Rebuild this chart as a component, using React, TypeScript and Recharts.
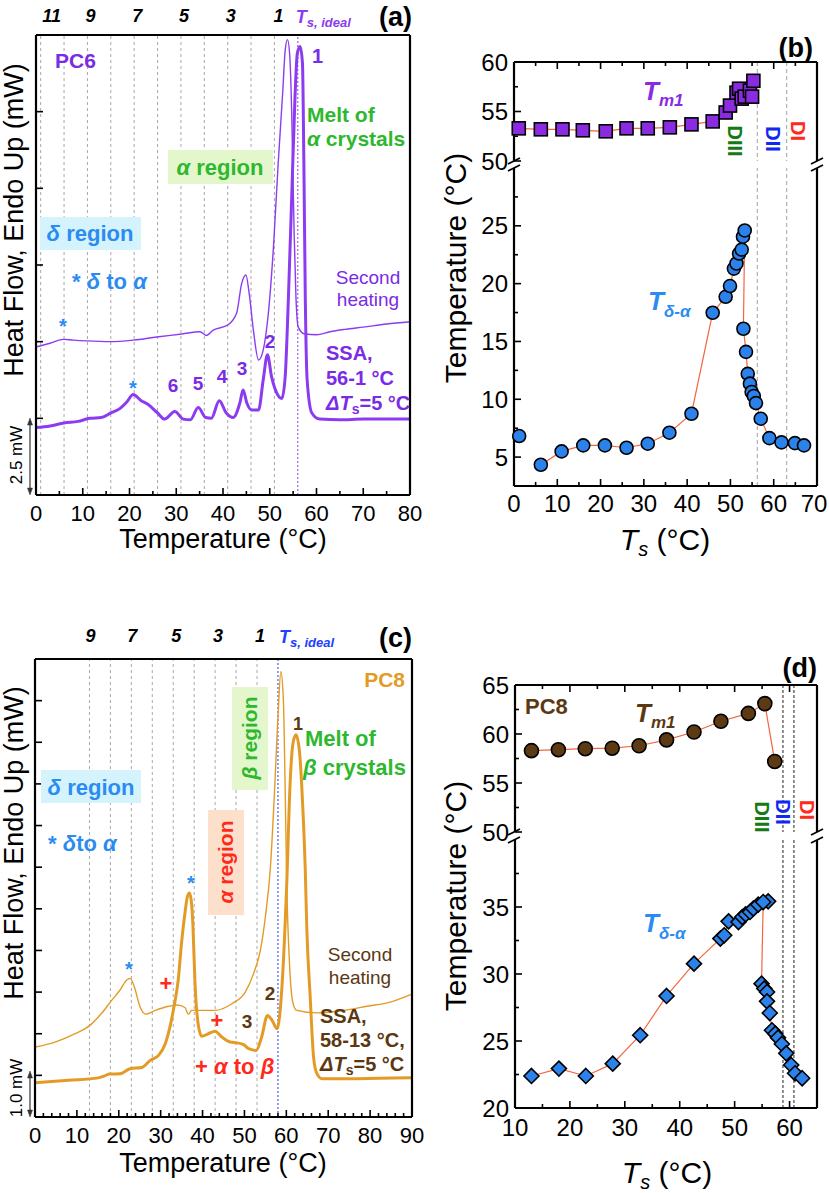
import React from 'react';
import { LineChart, Line, XAxis, YAxis, ReferenceLine, ScatterChart, Scatter } from 'recharts';

const FONT = '"Liberation Sans", Arial, Helvetica, sans-serif';
const PURPLE = '#8b3cf0';
const PURPLE_TXT = '#7b2ae6';
const ORANGE = '#e39b26';
const BROWN = '#5b3812';
const GREEN = '#2db82d';
const DGREEN = '#147a14';
const BLUE_TXT = '#2a8cf2';
const BLUE_MK = '#2a82ea';
const RED = '#ff2a1a';
const FIT = '#f2663f';
const GRID = '#a8a8a8';

// (a) PC6: heat flow in units of 2.5 mW (traces offset)
const A_HEAT_T = [0, 3, 5.9, 8, 10.8, 15.8, 20.8, 25.8, 31.2, 35.1, 36.4, 37.9, 41.1, 42.9, 44.0, 44.9, 45.6, 46.5, 47.6, 48.6, 49.7, 50.8, 51.8, 52.8, 53.3, 53.8, 54.3, 54.7, 55.2, 55.6, 56.1, 57.5, 60.0, 62.9, 66, 70, 75, 80];
const A_HEAT_V = [1.93, 1.98, 2.03, 2.02, 2.01, 2.0, 2.02, 2.06, 2.1, 2.13, 2.08, 2.15, 2.22, 2.37, 2.76, 2.87, 2.63, 2.15, 1.76, 1.89, 2.37, 3.24, 4.32, 5.28, 5.8, 5.94, 5.71, 4.98, 3.45, 2.59, 2.19, 2.1, 2.09, 2.13, 2.16, 2.19, 2.23, 2.26];
const A_SSA_T = [0, 3, 6, 9, 11.5, 14, 16, 18, 19.5, 20.8, 22.5, 24, 26, 27.5, 29.7, 31.5, 33, 34.7, 36.3, 37.5, 39.2, 40.7, 42.2, 43.6, 44.3, 45.1, 46.1, 47.6, 48.6, 49.5, 50.4, 51.5, 52.6, 53.3, 54.0, 54.7, 55.4, 55.9, 56.5, 57.0, 57.3, 57.6, 58.0, 59.0, 60.7, 65, 70, 75, 80];
const A_SSA_V = [0.88, 0.9, 0.94, 0.96, 1.0, 1.01, 1.07, 1.13, 1.22, 1.31, 1.23, 1.18, 1.07, 0.99, 1.09, 0.99, 0.98, 1.14, 1.01, 1.0, 1.23, 1.07, 1.01, 1.2, 1.37, 1.2, 1.11, 1.11, 1.5, 1.83, 1.54, 1.33, 1.26, 1.54, 2.59, 3.89, 5.19, 5.76, 5.85, 5.63, 4.32, 2.59, 1.5, 1.07, 0.99, 0.98, 0.99, 0.99, 0.99];
const A_WIN_T = [1, 6, 11, 16, 21, 26, 31, 36, 41, 46, 51];
const A_WIN_N = [11, 10, 9, 8, 7, 6, 5, 4, 3, 2, 1];
const A_IDEAL = 56;
const A_XTICKS = [0, 5, 10, 15, 20, 25, 30, 35, 40, 45, 50, 55, 60, 65, 70, 75, 80];
const A_XMAJOR = [0, 10, 20, 30, 40, 50, 60, 70, 80];
const A_YTICKS = [0, 1, 2, 3, 4, 5, 6];

// (c) PC8: heat flow in mW (traces offset)
const C_HEAT_T = [0, 4.8, 9.6, 13.1, 15.9, 18.3, 20.3, 21.9, 22.7, 23.7, 25.1, 26.4, 28.7, 31.9, 33.9, 35.8, 36.6, 37.4, 39.8, 43, 47, 50.2, 52.2, 53.8, 55, 56.2, 57.2, 58.0, 58.7, 59.3, 59.7, 60.1, 60.8, 61.6, 62.5, 67.3, 73.7, 79.3, 84.8, 90];
const C_HEAT_V = [1.68, 1.8, 2.0, 2.2, 2.49, 2.8, 3.05, 3.29, 3.33, 3.13, 2.64, 2.47, 2.56, 2.66, 2.69, 2.63, 2.47, 2.56, 2.56, 2.56, 2.72, 3.0, 3.45, 4.0, 4.81, 6.0, 7.85, 9.61, 10.7, 10.0, 8.0, 5.6, 3.6, 2.73, 2.56, 2.5, 2.56, 2.66, 2.76, 2.95];
const C_SSA_T = [0, 8, 15.1, 16.5, 17.7, 20.3, 22.7, 25.5, 27.5, 29.5, 31.1, 32.3, 33.2, 34.2, 35.0, 35.8, 36.4, 36.9, 37.4, 37.7, 38.2, 39.0, 39.8, 41.4, 43.0, 44.6, 46.6, 48.2, 49.8, 51.0, 52.8, 54.1, 55.5, 56.6, 57.8, 59.0, 60.1, 60.9, 61.6, 62.3, 63.1, 63.9, 64.5, 64.9, 65.7, 66.5, 67.3, 68.5, 75, 82, 90];
const C_SSA_V = [0.82, 0.88, 0.94, 0.98, 1.03, 1.04, 1.16, 1.19, 1.36, 1.48, 1.76, 2.2, 2.66, 3.3, 4.2, 4.9, 5.3, 5.38, 5.1, 4.6, 3.2, 2.2, 1.94, 2.0, 2.06, 1.92, 1.8, 1.78, 1.74, 1.64, 1.6, 1.92, 2.44, 2.32, 2.12, 3.2, 5.61, 8.01, 8.98, 9.18, 8.81, 7.5, 6.0, 4.49, 2.88, 1.44, 1.04, 0.92, 0.92, 0.93, 0.94];
const C_WIN_T = [13, 18, 23, 28, 33, 38, 43, 48, 53];
const C_WIN_N = [9, 8, 7, 6, 5, 4, 3, 2, 1];
const C_IDEAL = 58;
const C_XTICKS = [0, 2, 4, 6, 8, 10, 12, 14, 16, 18, 20, 22, 24, 26, 28, 30, 32, 34, 36, 38, 40, 42, 44, 46, 48, 50, 52, 54, 56, 58, 60, 62, 64, 66, 68, 70, 72, 74, 76, 78, 80, 82, 84, 86, 88, 90];
const C_XMAJOR = [0, 10, 20, 30, 40, 50, 60, 70, 80, 90];
const C_YTICKS = [0, 1, 2, 3, 4, 5, 6, 7, 8, 9, 10, 11];

// (b) PC6 vs Ts
const B_TM_TS = [1.1, 6.2, 11.2, 15.9, 21.2, 26.0, 30.9, 36.0, 41.0, 45.9, 48.9, 49.9, 51.4, 52.0, 52.6, 53.3, 54.5, 55.0, 55.3];
const B_TM_V = [53.3, 53.2, 53.2, 53.1, 53.0, 53.3, 53.3, 53.4, 53.7, 54.0, 54.9, 55.6, 56.9, 57.3, 56.3, 56.5, 57.1, 56.5, 58.1];
const B_TDA0_TS = [1.2];
const B_TDA0_V = [6.82];
const B_TDA_TS = [6.2, 11.0, 16.0, 21.0, 26.0, 30.9, 35.9, 41.0, 45.9, 48.9, 49.9, 50.8, 51.4, 52.0, 52.6, 52.9, 53.3, 53.0, 53.6, 54.0, 54.5, 54.9, 55.4, 55.9, 57.0, 59.0, 61.8, 64.9, 67.0];
const B_TDA_V = [4.34, 5.49, 6.01, 6.01, 5.81, 6.16, 7.11, 8.75, 17.48, 18.86, 19.79, 21.3, 21.74, 22.6, 22.94, 24.06, 24.6, 16.1, 14.1, 12.2, 11.35, 10.63, 10.28, 9.67, 8.32, 6.64, 6.27, 6.21, 6.01];
const B_DOMAINS = [56.2, 63];
const B_XTICKS = [0, 5, 10, 15, 20, 25, 30, 35, 40, 45, 50, 55, 60, 65, 70];
const B_XMAJOR = [0, 10, 20, 30, 40, 50, 60, 70];
const B_UTICKS = [50, 52.5, 55, 57.5, 60];
const B_UMAJOR = [50, 55, 60];
const B_LTICKS = [5, 7.5, 10, 12.5, 15, 17.5, 20, 22.5, 25, 27.5];
const B_LMAJOR = [5, 10, 15, 20, 25];

// (d) PC8 vs Ts
const D_TM_TS = [13.0, 17.9, 22.8, 27.7, 32.6, 37.6, 42.6, 47.5, 52.5, 55.5, 57.3];
const D_TM_V = [58.3, 58.4, 58.5, 58.55, 58.8, 59.4, 60.2, 61.3, 62.1, 63.1, 57.2];
const D_TDA_TS = [13.0, 18.0, 22.9, 27.8, 32.8, 37.6, 42.6, 47.4, 48.1, 48.9, 50.7, 51.4, 52.0, 52.8, 53.4, 54.3, 56.1, 55.2, 54.9, 55.4, 55.9, 55.9, 56.4, 56.8, 57.4, 57.9, 58.6, 59.4, 60.3, 61.0, 62.3];
const D_TDA_V = [22.39, 22.94, 22.39, 23.31, 25.43, 28.36, 30.77, 32.64, 32.89, 33.93, 33.88, 34.25, 34.45, 34.63, 34.88, 35.18, 35.42, 35.37, 29.28, 28.91, 28.66, 27.96, 27.09, 25.8, 25.55, 25.25, 24.78, 24.08, 23.21, 22.59, 22.22];
const D_DOMAINS = [58.8, 60.8];
const D_XTICKS = [10, 15, 20, 25, 30, 35, 40, 45, 50, 55, 60, 65];
const D_XMAJOR = [10, 20, 30, 40, 50, 60];
const D_UTICKS = [50, 52.5, 55, 57.5, 60, 62.5, 65];
const D_UMAJOR = [50, 55, 60, 65];
const D_LTICKS = [20, 22.5, 25, 27.5, 30, 32.5, 35, 37.5];
const D_LMAJOR = [20, 25, 30, 35];

type Pt = { x: number; y: number };
const zip = (xs: number[], ys: number[]): Pt[] => xs.map((x, i) => ({ x, y: ys[i] }));
const has = (arr: number[], v: number) => arr.some((m) => Math.abs(m - v) < 1e-6);

type Side = 'bottom' | 'top' | 'left' | 'right';

// inward ticks, long for majors; labels only where asked
function tickFn(side: Side, major: number[], shown: number[], size: number, gap: number, lastDx = 0) {
  const last = shown.length ? shown[shown.length - 1] : NaN;
  return (p: any) => {
    const v = Number(p.payload.value);
    const x = p.x;
    const y = p.y;
    const len = has(major, v) ? 7 : 4;
    const c =
      side === 'bottom' ? [x, y, x, y - len] : side === 'top' ? [x, y, x, y + len] : side === 'left' ? [x, y, x + len, y] : [x, y, x - len, y];
    let label = null;
    if (has(shown, v)) {
      if (side === 'bottom')
        label = (
          <text x={x + (v === last ? lastDx : 0)} y={y + gap} textAnchor="middle" fontSize={size} fontFamily={FONT} fill="#000">
            {v}
          </text>
        );
      else if (side === 'left')
        label = (
          <text x={x - gap} y={y + size * 0.36} textAnchor="end" fontSize={size} fontFamily={FONT} fill="#000">
            {v}
          </text>
        );
    }
    return (
      <g>
        <line x1={c[0]} y1={c[1]} x2={c[2]} y2={c[3]} stroke="#000" strokeWidth={1.6} />
        {label}
      </g>
    );
  };
}

const AXIS = { stroke: '#000', strokeWidth: 2.2 };

const winLabel = (txt: string, off: number, dx: number) => (q: any) => (
  <text x={q.viewBox.x + dx} y={q.viewBox.y - off} textAnchor="middle" fontFamily={FONT} fontSize={18} fontWeight={700} fontStyle="italic" fill="#000">
    {txt}
  </text>
);

const idealLabel = (color: string, off: number, dx: number) => (q: any) => (
  <text x={q.viewBox.x + dx} y={q.viewBox.y - off} fontFamily={FONT} fontSize={18} fontWeight={700} fontStyle="italic" fill={color}>
    T
    <tspan fontSize={13} dy={4}>
      s, ideal
    </tspan>
  </text>
);

type Margin = { top: number; right: number; bottom: number; left: number };
type DscProps = {
  top: number;
  height: number;
  margin: Margin;
  xMax: number;
  xTicks: number[];
  xMajor: number[];
  yMax: number;
  yTicks: number[];
  heat: Pt[];
  ssa: Pt[];
  color: string;
  winT: number[];
  winN: number[];
  winOff: number;
  winDx: number[];
  ideal: number;
  idealColor: string;
  idealOff: number;
  idealDx: number;
};

// axes are 1px thick boxes (recharts skips 0-size axes), margins take the rest
function DscPanel(p: DscProps) {
  return (
    <div style={{ position: 'absolute', left: 0, top: p.top }}>
      <LineChart width={432} height={p.height} margin={p.margin}>
        <XAxis xAxisId="b" type="number" dataKey="x" domain={[0, p.xMax]} ticks={p.xTicks} interval={0} height={1} tickLine={false} tickSize={0} tickMargin={0} axisLine={AXIS} tick={tickFn('bottom', p.xMajor, p.xMajor, 22, 26)} />
        <XAxis xAxisId="t" orientation="top" type="number" dataKey="x" domain={[0, p.xMax]} ticks={p.xTicks} interval={0} height={1} tickLine={false} tickSize={0} tickMargin={0} axisLine={AXIS} tick={tickFn('top', p.xMajor, [], 22, 0)} />
        <YAxis yAxisId="l" type="number" dataKey="y" domain={[0, p.yMax]} ticks={p.yTicks} interval={0} width={1} tickLine={false} tickSize={0} tickMargin={0} axisLine={AXIS} tick={tickFn('left', p.yTicks, [], 22, 0)} />
        <YAxis yAxisId="r" orientation="right" type="number" dataKey="y" domain={[0, p.yMax]} ticks={p.yTicks} interval={0} width={1} tickLine={false} tickSize={0} tickMargin={0} axisLine={AXIS} tick={tickFn('right', p.yTicks, [], 22, 0)} />
        {p.winT.map((t, i) => (
          <ReferenceLine
            key={t}
            xAxisId="b"
            yAxisId="l"
            x={t}
            stroke={GRID}
            strokeDasharray="3 3"
            strokeWidth={1}
            label={p.winN[i] % 2 === 1 ? winLabel(String(p.winN[i]), p.winOff, p.winDx[i]) : undefined}
          />
        ))}
        <ReferenceLine xAxisId="b" yAxisId="l" x={p.ideal} stroke={p.idealColor} strokeDasharray="2 2" strokeWidth={1} label={idealLabel(p.idealColor, p.idealOff, p.idealDx)} />
        <Line xAxisId="b" yAxisId="l" data={p.heat} dataKey="y" type="monotone" stroke={p.color} strokeWidth={1.4} dot={false} isAnimationActive={false} />
        <Line xAxisId="b" yAxisId="l" data={p.ssa} dataKey="y" type="monotone" stroke={p.color} strokeWidth={3} dot={false} isAnimationActive={false} />
      </LineChart>
    </div>
  );
}

const square = (fill: string, s: number) => (q: any) => <rect x={q.cx - s / 2} y={q.cy - s / 2} width={s} height={s} fill={fill} stroke="#000" strokeWidth={1.6} />;
const circle = (fill: string, r: number) => (q: any) => <circle cx={q.cx} cy={q.cy} r={r} fill={fill} stroke="#000" strokeWidth={1.6} />;
const diamond = (fill: string, r: number) => (q: any) => (
  <polygon points={`${q.cx},${q.cy - r} ${q.cx + r},${q.cy} ${q.cx},${q.cy + r} ${q.cx - r},${q.cy}`} fill={fill} stroke="#000" strokeWidth={1.6} />
);

type Series = { data: Pt[]; shape: (q: any) => React.ReactElement; line: boolean };
type SegProps = {
  top: number;
  height: number;
  margin: Margin;
  xSide: 'top' | 'bottom';
  xDom: [number, number];
  xTicks: number[];
  xMajor: number[];
  xGap: number;
  lastDx: number;
  yDom: [number, number];
  yTicks: number[];
  yMajor: number[];
  vlines: number[];
  vDash: string;
  vColor: string;
  series: Series[];
};

function Segment(p: SegProps) {
  return (
    <div style={{ position: 'absolute', left: 420, top: p.top }}>
      <ScatterChart width={409} height={p.height} margin={p.margin}>
        <XAxis xAxisId="x" orientation={p.xSide} type="number" dataKey="x" domain={p.xDom} ticks={p.xTicks} interval={0} height={1} tickLine={false} tickSize={0} tickMargin={0} axisLine={AXIS} tick={tickFn(p.xSide, p.xMajor, p.xSide === 'bottom' ? p.xMajor : [], 24, p.xGap, p.lastDx)} />
        <YAxis yAxisId="l" type="number" dataKey="y" domain={p.yDom} ticks={p.yTicks} interval={0} width={1} tickLine={false} tickSize={0} tickMargin={0} axisLine={AXIS} tick={tickFn('left', p.yMajor, p.yMajor, 24, 6)} />
        <YAxis yAxisId="r" orientation="right" type="number" dataKey="y" domain={p.yDom} ticks={p.yTicks} interval={0} width={1} tickLine={false} tickSize={0} tickMargin={0} axisLine={AXIS} tick={tickFn('right', p.yMajor, [], 24, 6)} />
        {p.vlines.map((v) => (
          <ReferenceLine key={v} xAxisId="x" yAxisId="l" x={v} stroke={p.vColor} strokeDasharray={p.vDash} strokeWidth={1} />
        ))}
        {p.series.map((s, i) => (
          <Scatter key={i} xAxisId="x" yAxisId="l" data={s.data} shape={s.shape} line={s.line ? { stroke: FIT, strokeWidth: 1.2 } : false} isAnimationActive={false} />
        ))}
      </ScatterChart>
    </div>
  );
}

function Txt({ x, y, s, c = '#000', w = 700, a = 'start', it = false, rot = 0, children }: any) {
  return (
    <text
      x={x}
      y={y}
      fontSize={s}
      fill={c}
      fontWeight={w}
      textAnchor={a}
      fontStyle={it ? 'italic' : 'normal'}
      fontFamily={FONT}
      transform={rot ? `rotate(${rot} ${x} ${y})` : undefined}
    >
      {children}
    </text>
  );
}

const Gk = ({ children }: any) => <tspan fontStyle="italic">{children}</tspan>;

function Arrow({ x, y1, y2 }: { x: number; y1: number; y2: number }) {
  return (
    <g stroke="#333" fill="#333">
      <line x1={x} y1={y1 + 4} x2={x} y2={y2 - 4} strokeWidth={1.2} />
      <polygon points={`${x},${y1} ${x - 2.5},${y1 + 7} ${x + 2.5},${y1 + 7}`} strokeWidth={0.5} />
      <polygon points={`${x},${y2} ${x - 2.5},${y2 - 7} ${x + 2.5},${y2 - 7}`} strokeWidth={0.5} />
    </g>
  );
}

function BreakMarks({ y1, y2 }: { y1: number; y2: number }) {
  return (
    <g stroke="#000" strokeWidth={1.8}>
      {[514, 817].map((x) => (
        <g key={x}>
          <line x1={x - 6} y1={y1 + 3} x2={x + 6} y2={y1 - 3} />
          <line x1={x - 6} y1={y2 + 3} x2={x + 6} y2={y2 - 3} />
        </g>
      ))}
    </g>
  );
}

function DLabels({ xs, ys }: { xs: number[]; ys: number[] }) {
  const cols = [DGREEN, '#1028f0', RED];
  const txt = ['DIII', 'DII', 'DI'];
  return (
    <g>
      {txt.map((t, i) => (
        <Txt key={t} x={xs[i] - 7} y={ys[i]} s={20} c={cols[i]} a="middle" rot={90}>
          {t}
        </Txt>
      ))}
    </g>
  );
}

export default function App() {
  const aHeat = zip(A_HEAT_T, A_HEAT_V);
  const aSsa = zip(A_SSA_T, A_SSA_V);
  const cHeat = zip(C_HEAT_T, C_HEAT_V);
  const cSsa = zip(C_SSA_T, C_SSA_V);
  const bTm = zip(B_TM_TS, B_TM_V);
  const bTda0 = zip(B_TDA0_TS, B_TDA0_V);
  const bTda = zip(B_TDA_TS, B_TDA_V);
  const dTm = zip(D_TM_TS, D_TM_V);
  const dTda = zip(D_TDA_TS, D_TDA_V);

  return (
    <div style={{ position: 'absolute', left: 0, top: 0, width: 829, height: 1193, background: '#fff', fontFamily: FONT, overflow: 'hidden' }}>
      <DscPanel
        top={0}
        height={560}
        margin={{ top: 34, right: 21, bottom: 64, left: 35 }}
        xMax={80}
        xTicks={A_XTICKS}
        xMajor={A_XMAJOR}
        yMax={6}
        yTicks={A_YTICKS}
        heat={aHeat}
        ssa={aSsa}
        color={PURPLE}
        winT={A_WIN_T}
        winN={A_WIN_N}
        winOff={13}
        winDx={[11, 3, 3, 3, 3, 3, 3, 3, 3, 3, 4]}
        ideal={A_IDEAL}
        idealColor={PURPLE}
        idealOff={12}
        idealDx={-2}
      />
      <DscPanel
        top={600}
        height={593}
        margin={{ top: 58, right: 19, bottom: 75, left: 34 }}
        xMax={90}
        xTicks={C_XTICKS}
        xMajor={C_XMAJOR}
        yMax={11}
        yTicks={C_YTICKS}
        heat={cHeat}
        ssa={cSsa}
        color={ORANGE}
        winT={C_WIN_T}
        winN={C_WIN_N}
        winOff={17}
        winDx={[1, 1, 1, 1, 3, 3, 3, 3, 3]}
        ideal={C_IDEAL}
        idealColor="#2040ff"
        idealOff={16}
        idealDx={1}
      />

      {/* (b) broken temperature axis */}
      <Segment
        top={0}
        height={175}
        margin={{ top: 61, right: 11, bottom: 14, left: 93 }}
        xSide="top"
        xDom={[0, 70]}
        xTicks={B_XTICKS}
        xMajor={B_XMAJOR}
        xGap={0}
        lastDx={0}
        yDom={[50, 60]}
        yTicks={B_UTICKS}
        yMajor={B_UMAJOR}
        vlines={B_DOMAINS}
        vDash="4 3"
        vColor="#a0a0a0"
        series={[{ data: bTm, shape: square('#8a2be2', 13), line: true }]}
      />
      <Segment
        top={150}
        height={400}
        margin={{ top: 18, right: 11, bottom: 63, left: 93 }}
        xSide="bottom"
        xDom={[0, 70]}
        xTicks={B_XTICKS}
        xMajor={B_XMAJOR}
        xGap={26}
        lastDx={-3}
        yDom={[2.5, 30]}
        yTicks={B_LTICKS}
        yMajor={B_LMAJOR}
        vlines={B_DOMAINS}
        vDash="4 3"
        vColor="#a0a0a0"
        series={[
          { data: bTda, shape: circle(BLUE_MK, 6.5), line: true },
          { data: bTda0, shape: circle(BLUE_MK, 6.5), line: false },
        ]}
      />

      {/* (d) broken temperature axis */}
      <Segment
        top={640}
        height={210}
        margin={{ top: 44, right: 11, bottom: 18, left: 94 }}
        xSide="top"
        xDom={[10, 65]}
        xTicks={D_XTICKS}
        xMajor={D_XMAJOR}
        xGap={0}
        lastDx={0}
        yDom={[50, 65]}
        yTicks={D_UTICKS}
        yMajor={D_UMAJOR}
        vlines={D_DOMAINS}
        vDash="3 2"
        vColor="#222"
        series={[{ data: dTm, shape: circle('#5c3a14', 7), line: true }]}
      />
      <Segment
        top={820}
        height={373}
        margin={{ top: 20, right: 11, bottom: 84, left: 94 }}
        xSide="bottom"
        xDom={[10, 65]}
        xTicks={D_XTICKS}
        xMajor={D_XMAJOR}
        xGap={28}
        lastDx={0}
        yDom={[20, 40]}
        yTicks={D_LTICKS}
        yMajor={D_LMAJOR}
        vlines={D_DOMAINS}
        vDash="3 2"
        vColor="#222"
        series={[{ data: dTda, shape: diamond(BLUE_MK, 7.5), line: true }]}
      />

      <svg width={829} height={1193} style={{ position: 'absolute', left: 0, top: 0, pointerEvents: 'none' }}>
        {/* ---- (a) ---- */}
        <Txt x={412} y={26} s={27} a="end">(a)</Txt>
        <Txt x={23} y={220} s={27} w={400} a="middle" rot={-90}>Heat Flow, Endo Up (mW)</Txt>
        <Txt x={223} y={548} s={27} w={400} a="middle">Temperature (°C)</Txt>
        <Txt x={22} y={455} s={17} w={400} a="middle" rot={-90}>2.5 mW</Txt>
        <Arrow x={30} y1={418} y2={495} />
        <Txt x={55} y={68} s={21} c={PURPLE_TXT}>PC6</Txt>
        <Txt x={312} y={63} s={20} c={PURPLE_TXT}>1</Txt>
        <Txt x={307} y={122} s={21} c={GREEN}>Melt of</Txt>
        <Txt x={307} y={146} s={21} c={GREEN}><Gk>α</Gk> crystals</Txt>
        <rect x={168} y={150} width={105} height={34} fill="#e4f7cc" />
        <Txt x={220} y={175} s={22} c={GREEN} a="middle"><Gk>α</Gk>  region</Txt>
        <rect x={40} y={217} width={101} height={33} fill="#d4f3fc" />
        <Txt x={90} y={241} s={22} c={BLUE_TXT} a="middle"><Gk>δ</Gk>  region</Txt>
        <Txt x={72} y={289} s={22} c={BLUE_TXT}>* <Gk>δ</Gk> to <Gk>α</Gk></Txt>
        <Txt x={63} y={333} s={20} c={BLUE_TXT} a="middle">*</Txt>
        <Txt x={133} y={395} s={20} c={BLUE_TXT} a="middle">*</Txt>
        <Txt x={368} y={284} s={19} w={400} c={PURPLE_TXT} a="middle">Second</Txt>
        <Txt x={368} y={306} s={19} w={400} c={PURPLE_TXT} a="middle">heating</Txt>
        <Txt x={326} y={360} s={20} c={PURPLE_TXT}>SSA,</Txt>
        <Txt x={326} y={385} s={20} c={PURPLE_TXT}>56-1 °C</Txt>
        <Txt x={326} y={410} s={20} c={PURPLE_TXT}><Gk>ΔT</Gk><tspan fontSize={14} dy={4}>s</tspan><tspan dy={-4}>=5 °C</tspan></Txt>
        <Txt x={173} y={392} s={19} c={PURPLE_TXT} a="middle">6</Txt>
        <Txt x={198} y={390} s={19} c={PURPLE_TXT} a="middle">5</Txt>
        <Txt x={222} y={383} s={19} c={PURPLE_TXT} a="middle">4</Txt>
        <Txt x={242} y={375} s={19} c={PURPLE_TXT} a="middle">3</Txt>
        <Txt x={270} y={348} s={19} c={PURPLE_TXT} a="middle">2</Txt>

        {/* ---- (c) ---- */}
        <Txt x={412} y={647} s={27} a="end">(c)</Txt>
        <Txt x={23} y={843} s={27} w={400} a="middle" rot={-90}>Heat Flow, Endo Up (mW)</Txt>
        <Txt x={223} y={1172} s={27} w={400} a="middle">Temperature (°C)</Txt>
        <Txt x={22} y={1088} s={17} w={400} a="middle" rot={-90}>1.0 mW</Txt>
        <Arrow x={30} y1={1071} y2={1117} />
        <Txt x={405} y={687} s={21} c={ORANGE} a="end">PC8</Txt>
        <Txt x={298} y={730} s={18} c={BROWN} a="middle">1</Txt>
        <Txt x={305} y={746} s={22} c={GREEN}>Melt of</Txt>
        <Txt x={303} y={775} s={22} c={GREEN}><Gk>β</Gk> crystals</Txt>
        <rect x={41} y={770} width={100} height={33} fill="#d4f3fc" />
        <Txt x={91} y={795} s={22} c={BLUE_TXT} a="middle"><Gk>δ</Gk>  region</Txt>
        <Txt x={48} y={851} s={22} c={BLUE_TXT}>* <Gk>δ</Gk>to <Gk>α</Gk></Txt>
        <rect x={232} y={687} width={36} height={103} fill="#e4f7cc" />
        <Txt x={257} y={738} s={21} c={GREEN} a="middle" rot={-90}><Gk>β</Gk> region</Txt>
        <rect x={208} y={810} width={36} height={105} fill="#fde0cc" />
        <Txt x={233} y={862} s={21} c={RED} a="middle" rot={-90}><Gk>α</Gk> region</Txt>
        <Txt x={191} y={890} s={20} c={BLUE_TXT} a="middle">*</Txt>
        <Txt x={129} y={976} s={20} c={BLUE_TXT} a="middle">*</Txt>
        <Txt x={166} y={991} s={22} c={RED} a="middle">+</Txt>
        <Txt x={217} y={1028} s={22} c={RED} a="middle">+</Txt>
        <Txt x={247} y={1028} s={19} c={BROWN} a="middle">3</Txt>
        <Txt x={270} y={1000} s={19} c={BROWN} a="middle">2</Txt>
        <Txt x={360} y={961} s={19} w={400} c={BROWN} a="middle">Second</Txt>
        <Txt x={360} y={984} s={19} w={400} c={BROWN} a="middle">heating</Txt>
        <Txt x={320} y={1023} s={20} c={BROWN}>SSA,</Txt>
        <Txt x={320} y={1047} s={20} c={BROWN}>58-13 °C,</Txt>
        <Txt x={320} y={1071} s={20} c={BROWN}><Gk>ΔT</Gk><tspan fontSize={14} dy={4}>s</tspan><tspan dy={-4}>=5 °C</tspan></Txt>
        <Txt x={195} y={1074} s={22} c={RED}>+ <Gk>α</Gk> to <Gk>β</Gk></Txt>

        {/* ---- (b) ---- */}
        <Txt x={813} y={57} s={27} a="end">(b)</Txt>
        <Txt x={466} y={268} s={30} w={400} a="middle" rot={-90}>Temperature (°C)</Txt>
        <Txt x={665} y={550} s={30} w={400} a="middle"><Gk>T</Gk><tspan fontSize={20} dy={6} fontStyle="italic">s</tspan><tspan dy={-6}> (°C)</tspan></Txt>
        <BreakMarks y1={161} y2={168} />
        <Txt x={643} y={100} s={26} c="#8a2be2" it>T<tspan fontSize={17} dy={6}>m1</tspan></Txt>
        <Txt x={648} y={310} s={26} c={BLUE_TXT} it>T<tspan fontSize={17} dy={7}>δ-α</tspan></Txt>
        <DLabels xs={[735, 772.7, 798]} ys={[141, 139, 131]} />

        {/* ---- (d) ---- */}
        <Txt x={817} y={677} s={27} a="end">(d)</Txt>
        <Txt x={466} y={896} s={30} w={400} a="middle" rot={-90}>Temperature (°C)</Txt>
        <Txt x={667} y={1183} s={30} w={400} a="middle"><Gk>T</Gk><tspan fontSize={20} dy={6} fontStyle="italic">s</tspan><tspan dy={-6}> (°C)</tspan></Txt>
        <BreakMarks y1={832} y2={840} />
        <Txt x={525} y={714} s={22} c={BROWN}>PC8</Txt>
        <Txt x={635} y={722} s={26} c={BROWN} it>T<tspan fontSize={17} dy={6}>m1</tspan></Txt>
        <Txt x={643} y={932} s={26} c={BLUE_TXT} it>T<tspan fontSize={17} dy={7}>δ-α</tspan></Txt>
        <DLabels xs={[761.7, 783.3, 806.7]} ys={[817, 812, 810]} />
      </svg>
    </div>
  );
}
